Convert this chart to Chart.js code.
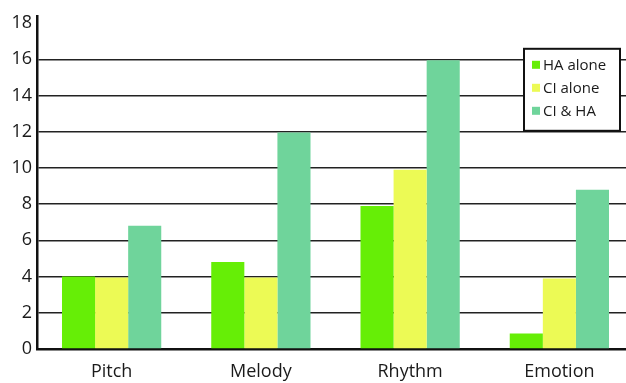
<!DOCTYPE html>
<html>
<head>
<meta charset="utf-8">
<script src="https://cdn.jsdelivr.net/npm/chart.js@4/dist/chart.umd.min.js"></script>
<style>
  html, body { margin: 0; padding: 0; background: #fff; overflow: hidden; }
  #wrap { width: 626px; height: 383px; overflow: hidden; }
  #c { display: block; }
</style>
</head>
<body>
<div id="wrap"><canvas id="c" width="634" height="383"></canvas></div>
<script>
// Categories and series values
const categories = ['Pitch', 'Melody', 'Rhythm', 'Emotion'];
const haAlone = [4.0, 4.8, 7.9, 0.85];
const ciAlone = [3.95, 3.95, 9.9, 3.9];
const ciAndHa = [6.8, 11.95, 15.95, 8.8];
const seriesLabels = ['HA alone', 'CI alone', 'CI & HA'];
const yTicks = [0, 2, 4, 6, 8, 10, 12, 14, 16, 18];

const colors = ['#66ee06', '#ecfa55', '#6fd49b'];
const FONT = '"Open Sans", "DejaVu Sans", sans-serif';

// Boxed legend drawn inside the plot, top-right
const boxedLegend = {
  id: 'boxedLegend',
  afterDraw(chart) {
    const { ctx, chartArea } = chart;
    const w = 96, h = 82;
    const x = 524;
    const y = chartArea.top + 33;
    ctx.save();
    ctx.fillStyle = '#fff';
    ctx.fillRect(x, y, w, h);
    ctx.lineWidth = 2;
    ctx.strokeStyle = '#111';
    ctx.strokeRect(x, y, w, h);
    ctx.font = '15px ' + FONT;
    ctx.textBaseline = 'middle';
    chart.data.datasets.forEach((ds, i) => {
      const cy = y + 16 + i * 23;
      ctx.fillStyle = ds.backgroundColor;
      ctx.fillRect(x + 8, cy - 4, 8, 8);
      ctx.fillStyle = '#1a1a1a';
      ctx.fillText(ds.label, x + 19, cy + 1);
    });
    ctx.restore();
  }
};

new Chart(document.getElementById('c'), {
  type: 'bar',
  data: {
    labels: categories,
    datasets: [
      { label: seriesLabels[0], data: haAlone, backgroundColor: colors[0] },
      { label: seriesLabels[1], data: ciAlone, backgroundColor: colors[1] },
      { label: seriesLabels[2], data: ciAndHa, backgroundColor: colors[2] }
    ]
  },
  options: {
    responsive: false,
    animation: false,
    devicePixelRatio: 1,
    layout: { padding: { top: 14, right: 0, left: 0, bottom: 0 } },
    datasets: {
      bar: { categoryPercentage: 0.665, barPercentage: 1.0, borderWidth: 0 }
    },
    plugins: {
      legend: { display: false },
      tooltip: { enabled: false }
    },
    scales: {
      x: {
        afterFit(scale) { scale.height = 34; },
        grid: { display: false },
        border: { display: true, color: '#111', width: 2.5 },
        ticks: {
          color: '#1a1a1a',
          font: { family: FONT, size: 18 },
          padding: 4
        }
      },
      y: {
        min: 0,
        max: 18.4,
        afterBuildTicks(scale) {
          scale.ticks = yTicks.map(v => ({ value: v }));
        },
        afterFit(scale) { scale.width = 37; },
        grid: {
          drawTicks: false,
          color: ctx => (ctx.tick && (ctx.tick.value === 0 || ctx.tick.value === 18)) ? 'rgba(0,0,0,0)' : '#222',
          lineWidth: 1.4
        },
        border: { display: true, color: '#111', width: 2.5 },
        ticks: {
          color: '#1a1a1a',
          font: { family: FONT, size: 18 },
          padding: 5
        }
      }
    }
  },
  plugins: [boxedLegend]
});
</script>
</body>
</html>
